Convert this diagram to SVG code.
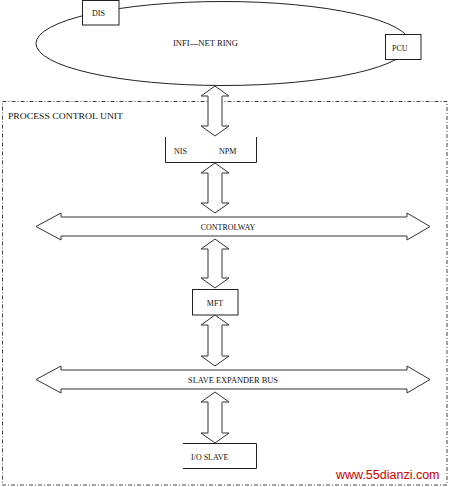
<svg xmlns="http://www.w3.org/2000/svg" width="450" height="487" viewBox="0 0 450 487">
<style>
text{font-family:"Liberation Serif","DejaVu Serif",serif;font-size:8px;fill:#111}
.box{fill:#fff;stroke:#222;stroke-width:1}
.arr{fill:#fff;stroke:#333;stroke-width:1}
.gr{stroke:#999;stroke-width:1.2;fill:none}
</style>
<rect width="450" height="487" fill="#fff"/>
<g id="pcu-frame">
<rect x="2.5" y="101.5" width="444.5" height="383.5" fill="none" stroke="#444" stroke-width="1" stroke-dasharray="4,2,1,2"/>
<text x="8" y="119" textLength="115" lengthAdjust="spacingAndGlyphs">PROCESS  CONTROL  UNIT</text>
</g>
<g id="ring">
<ellipse cx="223" cy="43.5" rx="187" ry="42" fill="none" stroke="#222" stroke-width="1"/>
<text x="173" y="46" textLength="65" lengthAdjust="spacingAndGlyphs">INFI—NET  RING</text>
</g>
<g id="dis">
<rect class="box" x="82.5" y="0.5" width="36.5" height="24.5"/>
<text x="92" y="16">DIS</text>
</g>
<g id="pcu">
<rect class="box" x="385.5" y="34.5" width="35.5" height="25"/>
<text x="392" y="51">PCU</text>
</g>
<g id="nis-npm">
<path d="M165.5,137 V162.5 H256.5 V137" fill="none" stroke="#222"/>
<text x="174" y="154">NIS</text>
<text x="219" y="154">NPM</text>
</g>
<g id="controlway">
<polygon class="arr" points="36,226.5 61,213 61,217 407,217 407,213 430,226.5 407,240 407,236 61,236 61,240"/>
<line class="gr" x1="61" y1="217" x2="407" y2="217"/>
<text x="228" y="230" text-anchor="middle">CONTROLWAY</text>
</g>
<g id="mft">
<rect class="box" x="192.5" y="289.5" width="45.5" height="25.5"/>
<text x="215" y="306" text-anchor="middle">MFT</text>
</g>
<g id="slave-bus">
<polygon class="arr" points="36,379.5 61,366 61,370 407,370 407,366 430,379.5 407,393 407,389 61,389 61,393"/>
<text x="233" y="383" text-anchor="middle" textLength="90" lengthAdjust="spacingAndGlyphs">SLAVE EXPANDER BUS</text>
</g>
<g id="io-slave">
<path d="M183,443.5 H256.5 V468.5 H183" fill="none" stroke="#222"/>
<text x="191" y="460">I/O SLAVE</text>
</g>
<g id="connectors">
<polygon class="arr" points="215,86 229,96 222,96 222,126 229,126 215,136 201,126 208,126 208,96 201,96"/>
<line class="gr" x1="222" y1="96" x2="222" y2="126"/>
<polygon class="arr" points="215,163 229,173 222,173 222,203 229,203 215,213 201,203 208,203 208,173 201,173"/>
<line class="gr" x1="222" y1="173" x2="222" y2="203"/>
<polygon class="arr" points="215,239 229,249 222,249 222,278 229,278 215,288 201,278 208,278 208,249 201,249"/>
<line class="gr" x1="222" y1="249" x2="222" y2="278"/>
<polygon class="arr" points="215,315 229,325 222,325 222,356 229,356 215,366 201,356 208,356 208,325 201,325"/>
<line class="gr" x1="222" y1="325" x2="222" y2="356"/>
<polygon class="arr" points="215,392 229,402 222,402 222,433 229,433 215,443 201,433 208,433 208,402 201,402"/>
<line class="gr" x1="222" y1="402" x2="222" y2="433"/>
</g>
<text x="336" y="479" style="font-family:'Liberation Sans',Arial,sans-serif;font-size:12.5px;fill:#d00000">www.55dianzi.com</text>
</svg>
